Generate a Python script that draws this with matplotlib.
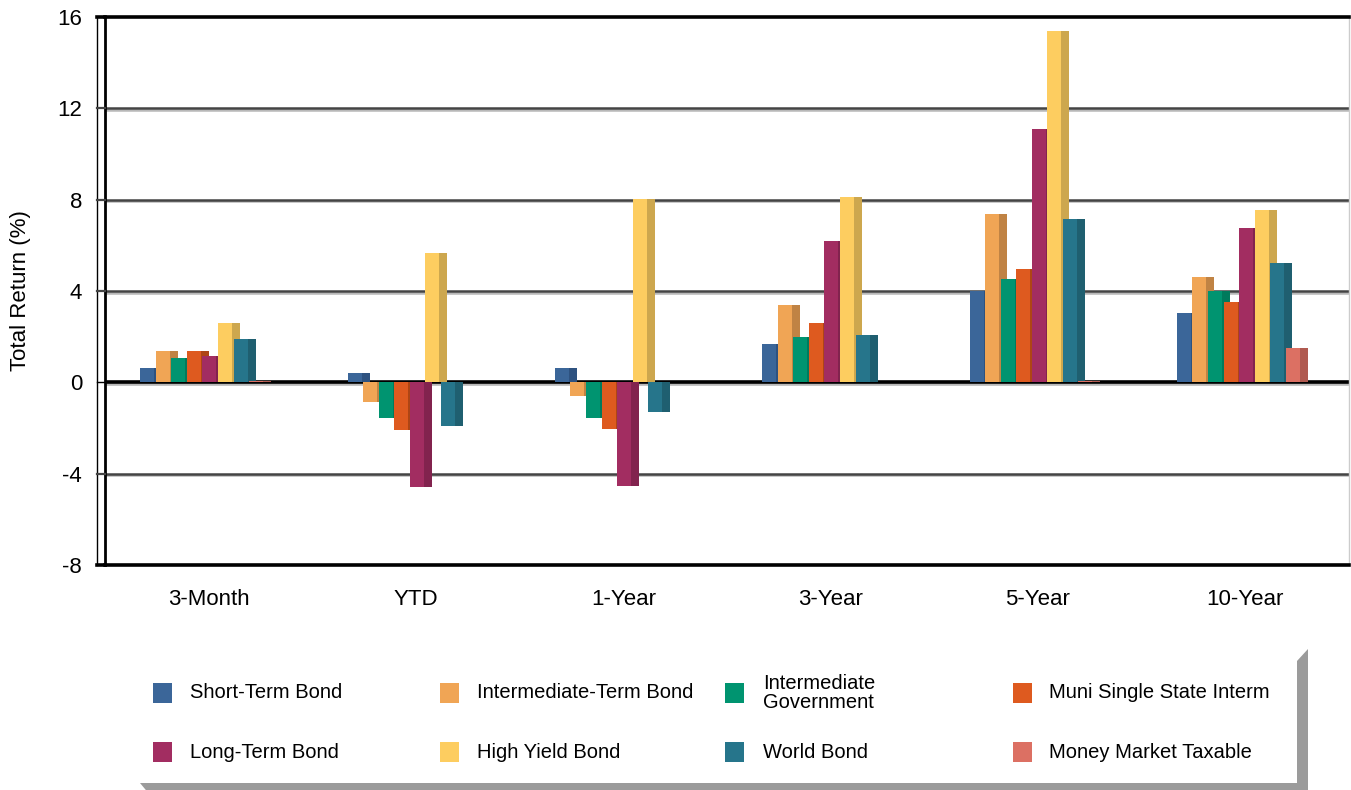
import numpy as np
import matplotlib
matplotlib.use("Agg")
import matplotlib.pyplot as plt
from matplotlib.patches import Rectangle, Polygon
from matplotlib.lines import Line2D
import matplotlib.patheffects as pe

plt.rcParams['font.family'] = ['Liberation Sans', 'DejaVu Sans']

# ---- data -------------------------------------------------------------
periods = ["3-Month", "YTD", "1-Year", "3-Year", "5-Year", "10-Year"]

categories = ["Short-Term Bond", "Intermediate-Term Bond", "Intermediate\nGovernment",
              "Muni Single State Interm", "Long-Term Bond", "High Yield Bond",
              "World Bond", "Money Market Taxable"]

short_term_bond = [0.61, 0.42, 0.61, 1.66, 3.98, 3.03]
intermediate_term_bond = [1.36, -0.88, -0.60, 3.37, 7.36, 4.60]
intermediate_government = [1.05, -1.58, -1.56, 1.97, 4.52, 4.00]
muni_single_state_interm = [1.36, -2.10, -2.04, 2.58, 4.96, 3.52]
long_term_bond = [1.14, -4.58, -4.54, 6.18, 11.08, 6.75]
high_yield_bond = [2.58, 5.68, 8.02, 8.10, 15.37, 7.54]
world_bond = [1.88, -1.90, -1.30, 2.06, 7.14, 5.22]
money_market_taxable = [0.05, 0.0, 0.0, 0.0, 0.05, 1.50]

series = [short_term_bond, intermediate_term_bond, intermediate_government,
          muni_single_state_interm, long_term_bond, high_yield_bond,
          world_bond, money_market_taxable]

front_colors = ["#3B6699", "#F0A555", "#009470", "#DE5A1F",
                "#A22D61", "#FDCD60", "#26758B", "#DC7063"]
side_colors = ["#2E5280", "#C08344", "#007A5C", "#AE4515",
               "#82234E", "#CDA74E", "#1F5F70", "#B05A50"]

yticks = [-8, -4, 0, 4, 8, 12, 16]

# ---- figure -----------------------------------------------------------
W, H = 1351, 790
fig = plt.figure(figsize=(W / 100, H / 100), dpi=100)
fig.patch.set_facecolor("white")

ax_l, ax_r, ax_t, ax_b = 105, 1349, 17, 565
ax = fig.add_axes([ax_l / W, 1 - ax_b / H, (ax_r - ax_l) / W, (ax_b - ax_t) / H])
ax.set_xlim(-0.5, len(periods) - 0.5)
ax.set_ylim(-8, 16)

# gridlines with a soft shadow underneath
shadow = [pe.SimpleLineShadow(offset=(0, -1.2), shadow_color="#9a9a9a", alpha=0.7), pe.Normal()]
for yv in [-4, 4, 8, 12]:
    ax.axhline(yv, color="#444444", lw=1.8, zorder=1, path_effects=shadow)
ax.axhline(0, color="black", lw=2.6, zorder=2, path_effects=shadow)

# 3-D style bars: front face plus a darker side face
step = 0.075
front_w = 0.0675
side_w = 0.0386
x = np.arange(len(periods))
z = 3
for k, vals in enumerate(series):
    left = x - 0.330 + k * step
    ax.bar(left + front_w, vals, width=side_w, align="edge",
           color=side_colors[k], edgecolor="none", zorder=z)
    ax.bar(left, vals, width=front_w, align="edge",
           color=front_colors[k], edgecolor="none", zorder=z + 1)
    z += 2

# frame
for s in ["top", "bottom"]:
    ax.spines[s].set_linewidth(2.6)
    ax.spines[s].set_color("black")
ax.spines["left"].set_linewidth(2.0)
ax.spines["left"].set_color("black")
ax.spines["right"].set_linewidth(1.0)
ax.spines["right"].set_color("#cccccc")

ax.set_xticks(x)
ax.set_xticklabels(periods, fontsize=16)
ax.set_yticks(yticks)
ax.set_yticklabels([str(v) for v in yticks], fontsize=16)
ax.tick_params(axis="x", length=0, pad=17)
ax.tick_params(axis="y", length=0, pad=16.5)
ax.set_ylabel("Total Return (%)", fontsize=16)
ax.yaxis.set_label_coords((31 - ax_l) / (ax_r - ax_l), 0.5)


def px(xp, yp):
    return xp / W, 1 - yp / H


# outer wall edge and gridline extensions to the left
def to_py(v):
    return ax_b - (v + 8) / 24 * (ax_b - ax_t)


wall_x = 97
fig.add_artist(Line2D([px(wall_x, 0)[0]] * 2, [px(0, ax_t)[1], px(0, ax_b)[1]],
                      color="black", lw=1.0))
for yv in [-4, 4, 8, 12]:
    yy = px(0, to_py(yv))[1]
    fig.add_artist(Line2D([px(wall_x, 0)[0], px(ax_l, 0)[0]], [yy, yy],
                          color="#444444", lw=1.6))
for yv in [-8, 0, 16]:
    yy = px(0, to_py(yv))[1]
    fig.add_artist(Line2D([px(wall_x, 0)[0], px(ax_l, 0)[0]], [yy, yy],
                          color="black", lw=2.6 if yv != 0 else 1.0))

# ---- legend panel with drop shadow -----------------------------------
box_l, box_r, box_t, box_b = 140, 1297, 660, 783
shadow_pts = [px(box_l, box_b), px(box_r, box_b), px(box_r, box_t + 1),
              px(1308, 649), px(1308, 795), px(box_l + 10, 795)]
fig.add_artist(Polygon(shadow_pts, closed=True, facecolor="#9b9b9b",
                       edgecolor="none", transform=fig.transFigure))
fig.add_artist(Rectangle(px(box_l, box_b), (box_r - box_l) / W, (box_b - box_t) / H,
                         facecolor="white", edgecolor="none", transform=fig.transFigure))

col_sq = [153, 440, 725, 1013]
col_tx = [190, 477, 763, 1049]
row_y = [693, 752]
for i, name in enumerate(categories):
    r, c = divmod(i, 4)
    sx, sy = col_sq[c], row_y[r]
    fig.add_artist(Rectangle(px(sx, sy + 10), 19 / W, 20 / H, facecolor=front_colors[i],
                             edgecolor="none", transform=fig.transFigure))
    fig.text(*px(col_tx[c], sy), name, fontsize=14.5, ha="left", va="center",
             linespacing=1.0)

fig.savefig("out.png", dpi=100, facecolor="white")
